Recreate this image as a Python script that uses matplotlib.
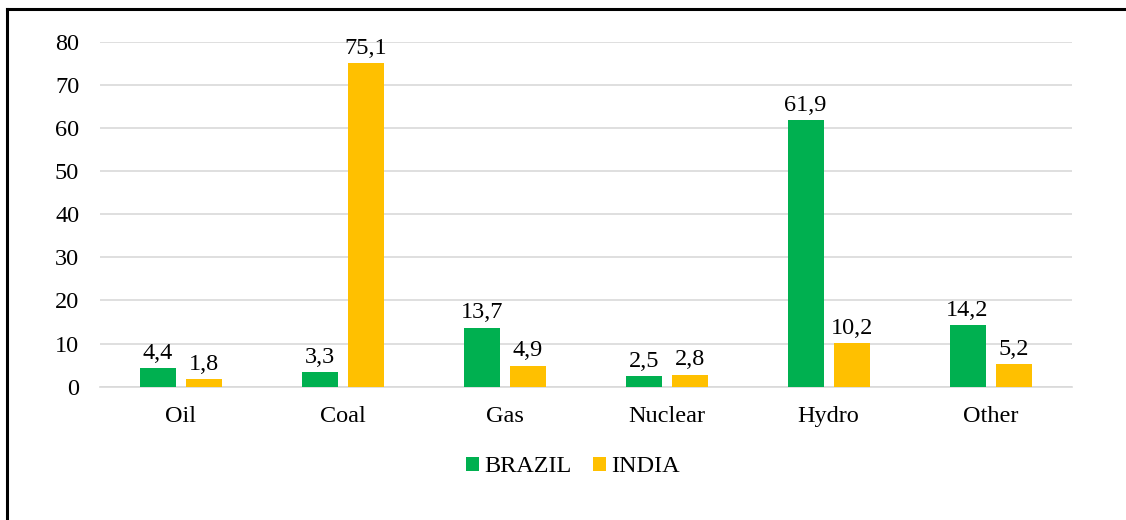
import matplotlib
matplotlib.use('Agg')
import matplotlib.pyplot as plt
from matplotlib.lines import Line2D
import numpy as np

# Electricity generation mix (%)
categories = ['Oil', 'Coal', 'Gas', 'Nuclear', 'Hydro', 'Other']
brazil = [4.4, 3.3, 13.7, 2.5, 61.9, 14.2]
india = [1.8, 75.1, 4.9, 2.8, 10.2, 5.2]
y_ticks = [0, 10, 20, 30, 40, 50, 60, 70, 80]

plt.rcParams['font.family'] = ['Liberation Serif', 'DejaVu Serif']
FS = 17.5

fig = plt.figure(figsize=(11.26, 5.2), dpi=100)
ax = fig.add_axes([100 / 1126, 1 - 386.7 / 520, 971.5 / 1126, 345 / 520])

x = np.arange(len(categories))
width = 0.222
offset = 0.142
b1 = ax.bar(x - offset, brazil, width, color='#00B050', label='BRAZIL', zorder=3)
b2 = ax.bar(x + offset, india, width, color='#FFC000', label='INDIA', zorder=3)

for bars in (b1, b2):
    for rect in bars:
        v = rect.get_height()
        ax.annotate(f'{v:.1f}'.replace('.', ','),
                    (rect.get_x() + rect.get_width() / 2, v),
                    xytext=(0, 3), textcoords='offset points',
                    ha='center', va='bottom', fontsize=FS)

ax.set_xlim(-0.5, len(categories) - 0.5)
ax.set_ylim(0, 80)
ax.set_yticks(y_ticks)
ax.set_xticks(x)
ax.set_xticklabels(categories)
ax.tick_params(axis='both', length=0, labelsize=FS)
ax.tick_params(axis='y', pad=15)
ax.tick_params(axis='x', pad=14)
ax.yaxis.grid(True, color='#D9D9D9', linewidth=1.2, zorder=0)
for s in ['top', 'right', 'left']:
    ax.spines[s].set_visible(False)
ax.spines['bottom'].set_color('#D9D9D9')
ax.spines['bottom'].set_linewidth(1.2)

fig.legend(handles=[b1, b2], labels=['BRAZIL', 'INDIA'], loc='center',
           bbox_to_anchor=(573 / 1126, 1 - 467 / 520), ncol=2, frameon=False,
           fontsize=FS, handlelength=0.54, handleheight=0.54, handletextpad=0.22,
           columnspacing=0.86)

# outer frame (left and top edges visible)
fig.add_artist(Line2D([7 / 1126, 7 / 1126], [0, 1 - 8.5 / 520],
                      transform=fig.transFigure, color='black', linewidth=2.2))
fig.add_artist(Line2D([7 / 1126, 1], [1 - 8.5 / 520, 1 - 8.5 / 520],
                      transform=fig.transFigure, color='black', linewidth=2.2))

fig.savefig('out.png', dpi=100)
